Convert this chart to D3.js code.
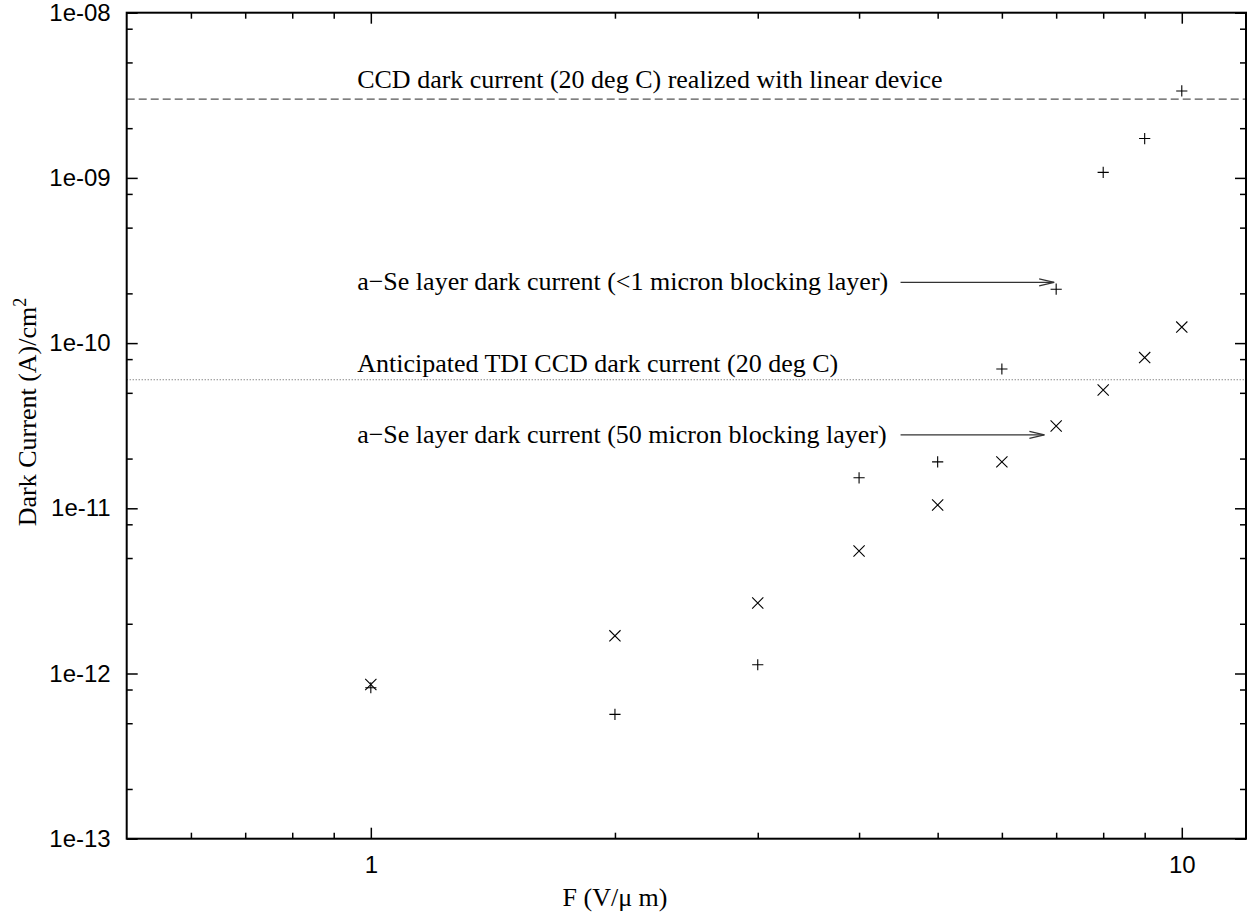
<!DOCTYPE html>
<html>
<head>
<meta charset="utf-8">
<script src="https://cdn.jsdelivr.net/npm/d3@7"></script>
<style>
  body { margin: 0; background: #fff; }
  svg { display: block; }
</style>
</head>
<body>
<div id="chart"></div>
<script>
// field strength (V/um) where dark current was measured
const fieldValues = [1, 2, 3, 4, 5, 6, 7, 8, 9, 10];
// a-Se with <1 micron blocking layer (+ marks)
const thinBlocking = [8.2e-13, 5.66e-13, 1.13e-12, 1.53e-11, 1.91e-11, 6.97e-11, 2.12e-10, 1.08e-9, 1.73e-9, 3.36e-9];
// a-Se with 50 micron blocking layer (x marks)
const thickBlocking = [8.58e-13, 1.69e-12, 2.67e-12, 5.52e-12, 1.047e-11, 1.91e-11, 3.15e-11, 5.2e-11, 8.17e-11, 1.25e-10];

// reference levels
const ccdLinear = 3e-9;
const tdiCcd = 6e-11;

const xMajor = [1, 10];
const xMinor = [0.6, 0.7, 0.8, 0.9, 2, 3, 4, 5, 6, 7, 8, 9];
const yMajor = [1e-13, 1e-12, 1e-11, 1e-10, 1e-9, 1e-8];
const yMinorFactors = [2, 5, 8];

const labelTexts = [
  "CCD dark current (20 deg C) realized with linear device",
  "a\u2212Se layer dark current (<1 micron blocking layer)",
  "Anticipated TDI CCD dark current (20 deg C)",
  "a\u2212Se layer dark current (50 micron blocking layer)"
];
const labelY = [3.9e-9, 2.33e-10, 7.5e-11, 2.78e-11];
const labelX = 0.962;

// arrows: [x start, x end, y]
const arrowStartX = [4.5, 4.5];
const arrowEndX = [6.96, 6.77];
const arrowY = [2.33e-10, 2.78e-11];

const W = 1254, H = 923;
const margin = {left: 126.7, top: 12.7, right: 8, bottom: 84.3};
const iw = W - margin.left - margin.right;
const ih = H - margin.top - margin.bottom;

const svg = d3.select("#chart").append("svg")
  .attr("width", W)
  .attr("height", H);

const g = svg.append("g")
  .attr("transform", "translate(" + margin.left + "," + margin.top + ")");

const xScale = d3.scaleLog().domain([0.5, 12]).range([0, iw]);
const yScale = d3.scaleLog().domain([1e-13, 1e-8]).range([ih, 0]);

const yMinor = [];
yMajor.slice(0, -1).forEach(m => yMinorFactors.forEach(f => yMinor.push(m * f)));

const fmtY = d => {
  const e = Math.round(Math.log10(d));
  return "1e" + (e < 0 ? "-" : "+") + String(Math.abs(e)).padStart(2, "0");
};

// reference lines
g.append("line")
  .attr("x1", 0).attr("x2", iw)
  .attr("y1", yScale(ccdLinear)).attr("y2", yScale(ccdLinear))
  .attr("stroke", "#555").attr("stroke-width", 1.2)
  .attr("stroke-dasharray", "8,4");

g.append("line")
  .attr("x1", 0).attr("x2", iw)
  .attr("y1", yScale(tdiCcd)).attr("y2", yScale(tdiCcd))
  .attr("stroke", "#555").attr("stroke-width", 1)
  .attr("stroke-dasharray", "1,2");

// axes: major and minor ticks on all four sides, pointing inward
function styleAxis(sel) {
  sel.select(".domain").remove();
  sel.selectAll("line").attr("stroke", "#000").attr("stroke-width", 1.5);
  sel.selectAll("text")
    .attr("font-family", "'Liberation Sans', Arial, sans-serif")
    .attr("font-size", 24)
    .attr("fill", "#000");
}

g.append("g").attr("transform", "translate(0," + ih + ")")
  .call(d3.axisBottom(xScale).tickValues(xMajor).tickSize(-11).tickPadding(17).tickFormat(d3.format("d")))
  .call(styleAxis);
g.append("g").attr("transform", "translate(0," + ih + ")")
  .call(d3.axisBottom(xScale).tickValues(xMinor).tickSize(-6).tickFormat(""))
  .call(styleAxis);
g.append("g")
  .call(d3.axisTop(xScale).tickValues(xMajor).tickSize(-11).tickFormat(""))
  .call(styleAxis);
g.append("g")
  .call(d3.axisTop(xScale).tickValues(xMinor).tickSize(-6).tickFormat(""))
  .call(styleAxis);

g.append("g")
  .call(d3.axisLeft(yScale).tickValues(yMajor).tickSize(-11).tickPadding(16).tickFormat(fmtY))
  .call(styleAxis);
g.append("g")
  .call(d3.axisLeft(yScale).tickValues(yMinor).tickSize(-6).tickFormat(""))
  .call(styleAxis);
g.append("g").attr("transform", "translate(" + iw + ",0)")
  .call(d3.axisRight(yScale).tickValues(yMajor).tickSize(-11).tickFormat(""))
  .call(styleAxis);
g.append("g").attr("transform", "translate(" + iw + ",0)")
  .call(d3.axisRight(yScale).tickValues(yMinor).tickSize(-6).tickFormat(""))
  .call(styleAxis);

// frame
g.append("rect")
  .attr("width", iw).attr("height", ih)
  .attr("fill", "none").attr("stroke", "#000").attr("stroke-width", 2);

// annotation labels
const serif = "'Liberation Serif', 'Times New Roman', serif";
g.selectAll(".note")
  .data(labelTexts)
  .enter().append("text")
  .attr("class", "note")
  .attr("x", xScale(labelX))
  .attr("y", (d, i) => yScale(labelY[i]))
  .attr("dy", "0.3em")
  .attr("font-family", serif)
  .attr("font-size", 26)
  .text(d => d);

// arrows with open heads
arrowY.forEach((yv, i) => {
  const x0 = xScale(arrowStartX[i]), x1 = xScale(arrowEndX[i]), y = yScale(yv);
  const a = g.append("g").attr("stroke", "#333").attr("stroke-width", 1.2).attr("fill", "none");
  a.append("line").attr("x1", x0).attr("x2", x1).attr("y1", y).attr("y2", y);
  a.append("path").attr("d", "M" + (x1 - 15) + "," + (y - 3.5) + "L" + x1 + "," + y + "L" + (x1 - 15) + "," + (y + 3.5));
});

// data marks
const s = 5.6;
g.selectAll(".plus")
  .data(fieldValues)
  .enter().append("path")
  .attr("class", "plus")
  .attr("d", (d, i) => {
    const px = xScale(d), py = yScale(thinBlocking[i]);
    return "M" + (px - s) + "," + py + "H" + (px + s) + "M" + px + "," + (py - s) + "V" + (py + s);
  })
  .attr("stroke", "#000").attr("stroke-width", 1.1).attr("fill", "none");

g.selectAll(".cross")
  .data(fieldValues)
  .enter().append("path")
  .attr("class", "cross")
  .attr("d", (d, i) => {
    const px = xScale(d), py = yScale(thickBlocking[i]);
    return "M" + (px - s) + "," + (py - s) + "L" + (px + s) + "," + (py + s) +
           "M" + (px - s) + "," + (py + s) + "L" + (px + s) + "," + (py - s);
  })
  .attr("stroke", "#000").attr("stroke-width", 1.1).attr("fill", "none");

// axis titles
svg.append("text")
  .attr("x", 615).attr("y", 906)
  .attr("text-anchor", "middle")
  .attr("font-family", serif)
  .attr("font-size", 26)
  .text("F (V/\u03bc m)");

const yl = svg.append("text")
  .attr("transform", "translate(36,412) rotate(-90)")
  .attr("text-anchor", "middle")
  .attr("font-family", serif)
  .attr("font-size", 26);
yl.append("tspan").text("Dark Current (A)/cm");
yl.append("tspan").attr("dy", -10).attr("font-size", 18).text("2");
</script>
</body>
</html>
